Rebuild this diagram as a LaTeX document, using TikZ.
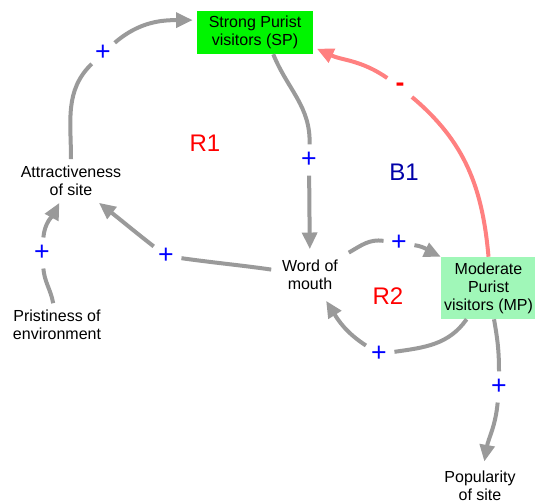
\documentclass[tikz,border=0pt]{standalone}
\usepackage{fontspec}
\setmainfont{Liberation Sans}
\usepackage{xcolor}
\usepackage{tikz}
\usetikzlibrary{arrows.meta}
\definecolor{linkgray}{HTML}{9A9A9A}
\definecolor{neglink}{HTML}{FF8080}
\definecolor{spgreen}{HTML}{00F500}
\definecolor{mpgreen}{HTML}{A0F7B8}
\definecolor{loopblue}{HTML}{0000A8}
\tikzset{
  cldtext/.style={align=center, inner sep=5pt, font=\fontsize{12}{13.5}\selectfont},
  cldbox/.style={cldtext, inner sep=0pt},
  cldlink/.style={-{Triangle[length=12.5pt,width=11pt]}, line width=3pt, draw=linkgray},
  cldneglink/.style={cldlink, draw=neglink},
  cldpol/.style={circle, inner sep=0pt, minimum size=23pt, font=\fontsize{20}{20}\selectfont},
  cldloop/.style={font=\fontsize{18}{18}\selectfont}
}

\begin{document}
\begin{tikzpicture}[x=0.75pt,y=0.75pt]
  \useasboundingbox (0,0) rectangle (535,-503);

  % variables
  \node[cldbox, fill=spgreen, minimum width=87pt, minimum height=32.25pt] (sp) at (255,-32.5) {Strong Purist\\visitors (SP)};
  \node[cldbox, fill=mpgreen, minimum width=71.25pt, minimum height=46.5pt] (mp) at (488.5,-288) {Moderate\\Purist\\visitors (MP)};
  \node[cldtext] (attr) at (71,-181) {Attractiveness\\of site};
  \node[cldtext] (prist) at (57,-325) {Pristiness of\\environment};
  \node[cldtext, inner sep=8pt] (wom) at (310,-275) {Word of\\mouth};
  \node[cldtext, inner sep=7pt] (pop) at (480,-486) {Popularity\\of site};

  % polarities
  \node[cldpol, text=blue] (p1) at (103,-53) {+};
  \node[cldpol, text=blue] (p2) at (309,-160) {+};
  \node[cldpol, text=blue] (p3) at (166,-256) {+};
  \node[cldpol, text=blue] (p4) at (42,-253) {+};
  \node[cldpol, text=blue] (p5) at (399,-243) {+};
  \node[cldpol, text=blue] (p6) at (379,-354) {+};
  \node[cldpol, text=red, font=\fontsize{20}{20}\selectfont\bfseries] (p7) at (400,-87) {-};
  \node[cldpol, text=blue] (p8) at (499,-387) {+};

  % loop labels
  \node[cldloop, text=red] (r1) at (205,-143) {R1};
  \node[cldloop, text=loopblue] (b1) at (404,-172) {B1};
  \node[cldloop, text=red] (r2) at (388,-296) {R2};

  % links
  \draw[cldlink, shorten >=3pt] (attr) to[out=90,in=224] (p1) to[out=41,in=180] (sp.168);
  \draw[cldlink] (sp.-50) to[out=-68,in=88] (p2) -- (wom);
  \draw[cldlink] (wom) to[out=172,in=-8] (p3) to[out=142,in=-38] (attr);
  \draw[cldlink] (prist) to[out=100,in=-85] (p4) to[out=85,in=-118] (attr);
  \draw[cldlink] (wom) to[out=30,in=172] (p5) to[out=-8,in=155] (mp.north west);
  \draw[cldlink] (mp) to[out=235,in=8] (p6) to[out=147,in=-58] (wom);
  \draw[cldlink] (mp) to[out=-80,in=90] (p8) to[out=-95,in=80] (pop);

  % negative link
  \draw[cldneglink, shorten >=3pt] (mp.north) to[out=95,in=-40] (p7) to[out=145,in=-25] (sp.-14);

\end{tikzpicture}
\end{document}
